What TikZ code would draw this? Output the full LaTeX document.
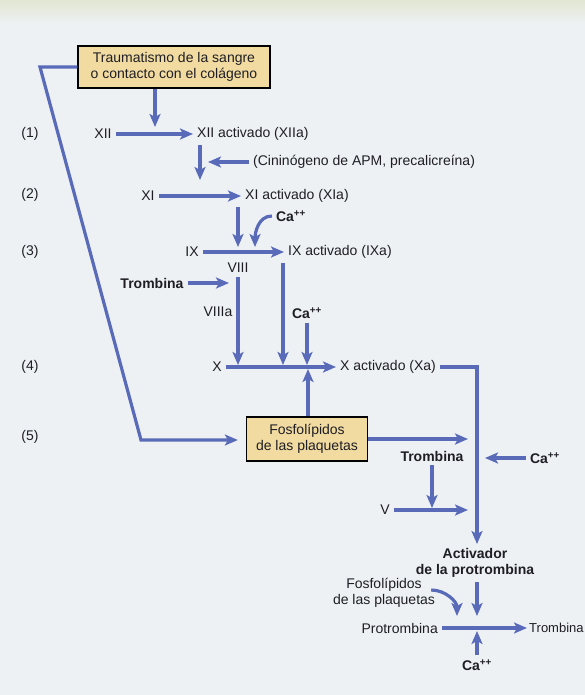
\documentclass[tikz,border=0pt]{standalone}
\usepackage{fontspec}
\setmainfont{Liberation Sans}
\usetikzlibrary{arrows.meta}
\usetikzlibrary{positioning}
\definecolor{flow}{RGB}{88,106,184}
\definecolor{boxfill}{RGB}{242,219,160}
\definecolor{paper}{RGB}{238,241,244}
\definecolor{ink}{RGB}{30,30,36}
\newcommand{\caion}{Ca\textsuperscript{++}}
\tikzset{%
  myedge/.style={->, draw=flow, line width=3.2pt, >={Stealth[length=13pt,width=11pt,inset=3pt]}},
  mybox/.style={draw=black, line width=1.3pt, fill=boxfill, align=center, text=ink,
    font=\fontsize{14}{16.5}\selectfont},
  mylabel/.style={text=ink, inner sep=4pt, font=\fontsize{14}{16.5}\selectfont},
  mybold/.style={mylabel, font=\fontsize{14}{16.5}\selectfont\bfseries}
}

\begin{document}
\begin{tikzpicture}[x=1pt, y=-1pt]

  \fill[paper] (0,0) rectangle (585,695);
  \shade[top color={rgb,255:red,226;green,230;blue,210}, bottom color=paper] (0,0) rectangle (585,24);
  \useasboundingbox (0,0) rectangle (585,695);

  % step numbers
  \node[mylabel] (r1) at (30,134) {(1)};
  \node[mylabel] (r2) at (30,195) {(2)};
  \node[mylabel] (r3) at (30,252) {(3)};
  \node[mylabel] (r4) at (30,367) {(4)};
  \node[mylabel] (r5) at (30,437) {(5)};

  \node[mybox, minimum width=192pt, minimum height=42pt] (trauma) at (174,67) {Traumatismo de la sangre\\o contacto con el colágeno};
  \node[mylabel] (xii) at (103,134) {XII};
  \node[mylabel, anchor=west] (xiia) at (193,134) {XII activado (XIIa)};
  \node[mylabel, anchor=west] (apm) at (249,162) {(Cininógeno de APM, precalicreína)};
  \node[mylabel] (xi) at (148,196) {XI};
  \node[mylabel, anchor=west] (xia) at (241,196) {XI activado (XIa)};
  \node[mybold] (ca1) at (291,216) {\caion};
  \node[mylabel] (ix) at (192,252) {IX};
  \node[mylabel, anchor=west] (ixa) at (284,252) {IX activado (IXa)};
  \node[mylabel] (viii) at (238,268) {VIII};
  \node[mybold] (tromb1) at (152,283) {Trombina};
  \node[mybold] (ca2) at (307,313) {\caion};
  \node[mylabel] (x) at (217,367) {X};
  \node[mylabel, anchor=west] (xa) at (336,367) {X activado (Xa)};
  \node[mybox, minimum width=121pt, minimum height=44pt] (fosfo) at (307,439) {Fosfolípidos\\de las plaquetas};
  \node[mybold] (tromb2) at (432,456) {Trombina};
  \node[mybold] (ca3) at (545,458) {\caion};
  \node[mylabel] (v) at (385,510) {V};
  \node[mybold, align=center] (activ) at (475,563) {Activador\\de la protrombina};
  \node[mylabel, align=center] (fosfo2) at (384,593) {Fosfolípidos\\de las plaquetas};
  \node[mylabel, anchor=east] (prot) at (442,628) {Protrombina};
  \node[mylabel, anchor=west, inner xsep=2pt, font=\fontsize{13}{15}\selectfont] (tromb3) at (527,628) {Trombina};
  \node[mybold] (ca4) at (477,665) {\caion};

  \coordinate (k1) at (40,67);
  \coordinate (k2) at (141,440);
  \coordinate (k3) at (477,367);
  \coordinate (t1) at (155,127);
  \coordinate (t2) at (200,180);
  \coordinate (t3) at (208,162);
  \coordinate (t4) at (238,247);
  \coordinate (t5) at (255,247);
  \coordinate (t6) at (229,283);
  \coordinate (t7) at (238,365);
  \coordinate (t8) at (283,365);
  \coordinate (t9) at (307,365);
  \coordinate (t10) at (308,369);
  \coordinate (t11) at (468,439);
  \coordinate (t12) at (432,508);
  \coordinate (t13) at (485,458);
  \coordinate (t14) at (468,510);
  \coordinate (t15) at (477,616);
  \coordinate (t16) at (457,616);
  \coordinate (t17) at (477,631);

  \draw [myedge, shorten >=8pt] (trauma.west) -- (k1) -- (k2) -- (k2 -| fosfo.west);
  \draw [myedge] (trauma.south -| t1) -- (t1);
  \draw [myedge] (xii) -- (xiia);
  \draw [myedge] (xiia.south -| t2) -- (t2);
  \draw [myedge] (apm) -- (t3);
  \draw [myedge] (xi) -- (xia);
  \draw [myedge] (xia.south -| t4) -- (t4);
  \draw [myedge] (ca1.west) to[out=180, in=90] (t5);
  \draw [myedge] (ix) -- (ixa);
  \draw [myedge] (tromb1) -- (t6);
  \draw [myedge] (viii) -- (t7) node [pos=0.4, mylabel, left] (viiia) {VIIIa};
  \draw [myedge] (ixa.south west -| t8) -- (t8);
  \draw [myedge] (ca2) -- (t9);
  \draw [myedge] (x) -- (xa);
  \draw [myedge] (fosfo.north -| t10) -- (t10);
  \draw [myedge] (xa) -- (k3) -- (k3 |- activ.north);
  \draw [myedge] (fosfo) -- (t11);
  \draw [myedge] (tromb2) -- (t12);
  \draw [myedge] (ca3) -- (t13);
  \draw [myedge] (v) -- (t14);
  \draw [myedge] (activ.south -| t15) -- (t15);
  \draw [myedge] ([xshift=-8pt, yshift=3pt]fosfo2.east) to[out=0, in=90] (t16);
  \draw [myedge] (prot) -- (tromb3);
  \draw [myedge] (ca4) -- (t17);
\end{tikzpicture}
\end{document}
